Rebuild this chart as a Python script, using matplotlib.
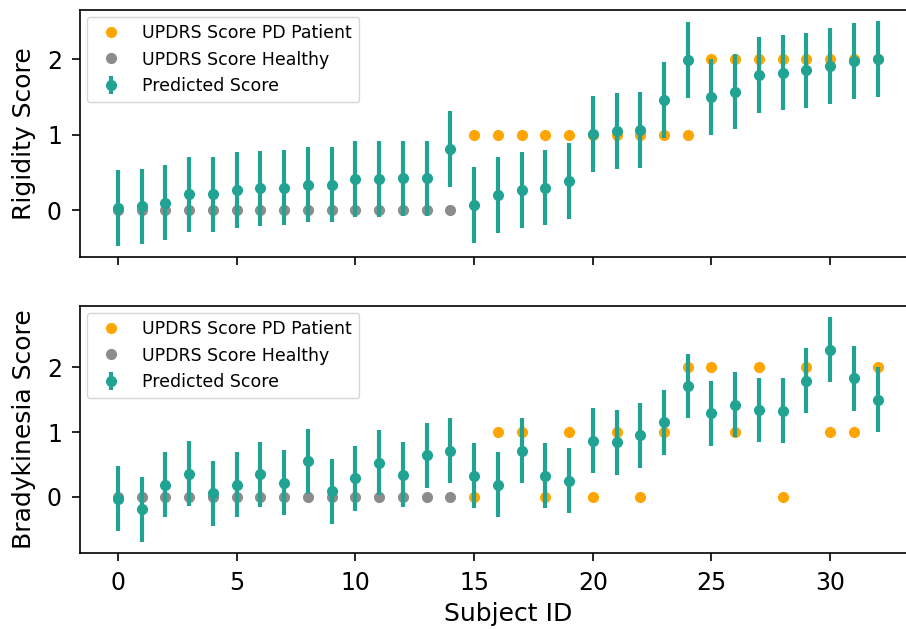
import matplotlib
matplotlib.use("Agg")
import matplotlib.pyplot as plt
import numpy as np

# subjects 0-14 healthy, 15-32 PD patients
healthy_ids = list(range(0, 15))
pd_ids = list(range(15, 33))
subject_ids = list(range(0, 33))

rig_healthy = [0] * 15
rig_pd = [1, 1, 1, 1, 1, 1, 1, 1, 1, 1, 2, 2, 2, 2, 2, 2, 2, 2]
rig_pred = [0.03, 0.05, 0.10, 0.21, 0.21, 0.27, 0.29, 0.30, 0.34, 0.34,
            0.41, 0.41, 0.42, 0.42, 0.81, 0.07, 0.20, 0.27, 0.30, 0.39,
            1.01, 1.05, 1.06, 1.46, 1.99, 1.50, 1.57, 1.79, 1.82, 1.85,
            1.91, 1.97, 2.00]

brady_healthy = [0] * 15
brady_pd = [0, 1, 1, 0, 1, 0, 1, 0, 1, 2, 2, 1, 2, 0, 2, 1, 1, 2]
brady_pred = [-0.03, -0.19, 0.19, 0.36, 0.06, 0.19, 0.35, 0.22, 0.55, 0.09,
              0.29, 0.53, 0.34, 0.64, 0.71, 0.33, 0.19, 0.71, 0.33, 0.25,
              0.87, 0.84, 0.95, 1.15, 1.71, 1.29, 1.42, 1.34, 1.33, 1.79,
              2.27, 1.83, 1.50]

pred_err = 0.5

orange = "#ffa500"
gray = "#8c8c8c"
teal = "#21a393"

fig = plt.figure(figsize=(9.06, 6.29), dpi=100)
# axes run past the right edge of the figure (right spine cut off, as in the original)
ax1 = fig.add_axes([80 / 906, 1 - 257 / 629, 857 / 906, 247 / 629])
ax2 = fig.add_axes([80 / 906, 1 - 553 / 629, 857 / 906, 247 / 629], sharex=ax1)

panels = [(ax1, rig_healthy, rig_pd, rig_pred, "Rigidity Score"),
          (ax2, brady_healthy, brady_pd, brady_pred, "Bradykinesia Score")]

for ax, h, p, pred, ylab in panels:
    ax.plot(pd_ids, p, "o", color=orange, ms=7, label="UPDRS Score PD Patient")
    ax.plot(healthy_ids, h, "o", color=gray, ms=7, label="UPDRS Score Healthy")
    ax.errorbar(subject_ids, pred, yerr=pred_err, fmt="o", color=teal,
                ms=7, elinewidth=3, label="Predicted Score")
    ax.set_ylabel(ylab, fontsize=18, labelpad=8)
    ax.tick_params(labelsize=17, width=1.2, length=6, pad=7)
    for s in ax.spines.values():
        s.set_linewidth(1.2)
    ax.legend(loc="upper left", fontsize=12.5, borderaxespad=0.4)

ax1.set_xlim(-1.6, 34.5)
plt.setp(ax1.get_xticklabels(), visible=False)
ax2.set_xlabel("Subject ID", fontsize=18, labelpad=5)

fig.savefig("out.png", dpi=100)
